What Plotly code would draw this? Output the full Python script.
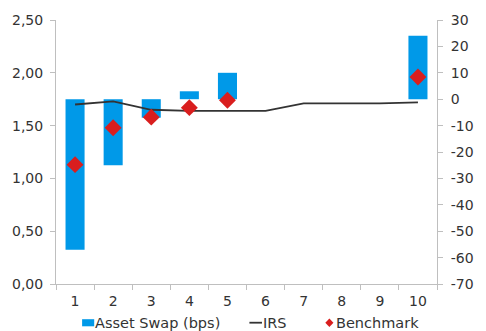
import plotly.graph_objects as go

# Maturity buckets (years)
categories = ["1", "2", "3", "4", "5", "6", "7", "8", "9", "10"]

# Asset swap spread in basis points (right axis)
asset_swap_bps = [-57, -25, -7, 3, 10, None, None, None, None, 24]

# IRS curve, % (left axis)
irs = [1.70, 1.73, 1.65, 1.64, 1.64, 1.64, 1.71, 1.71, 1.71, 1.72]

# Benchmark bond yields, % (left axis)
benchmark = [1.13, 1.48, 1.58, 1.67, 1.74, None, None, None, None, 1.96]

left_ticks = [0, 0.5, 1.0, 1.5, 2.0, 2.5]
right_ticks = list(range(-70, 31, 10))
right_labels = [str(v) for v in right_ticks]  # plain hyphen for negatives

series_names = ["Asset Swap (bps)", "IRS", "Benchmark"]

font_family = "DejaVu Sans, Verdana, sans-serif"
text_color = "#333333"
axis_color = "#BFBFBF"
bar_color = "#0099E8"
line_color = "#333333"
marker_color = "#D91E1E"

W, H = 486, 331
M = dict(l=53, r=39, t=20, b=47)
plot_w = W - M["l"] - M["r"]
plot_h = H - M["t"] - M["b"]


def px_x(px):
    """Pixel column -> paper x fraction of the plot area."""
    return (px - M["l"]) / plot_w


def px_y(py):
    """Pixel row -> paper y fraction of the plot area."""
    return (H - M["b"] - py) / plot_h


fig = go.Figure()

fig.add_trace(go.Bar(
    x=categories, y=asset_swap_bps, base=0, yaxis="y2",
    name=series_names[0], marker=dict(color=bar_color, line=dict(width=0)),
))
fig.add_trace(go.Scatter(
    x=categories, y=irs, yaxis="y", mode="lines", name=series_names[1],
    line=dict(color=line_color, width=1.8),
))
fig.add_trace(go.Scatter(
    x=categories, y=benchmark, yaxis="y", mode="markers", name=series_names[2],
    marker=dict(symbol="diamond", color=marker_color, size=13, line=dict(width=0)),
))

# Compact legend row under the axis
leg_y = 322.7
shapes = [
    dict(type="rect", xref="paper", yref="paper",
         x0=px_x(80), x1=px_x(92.5), y0=px_y(326.3), y1=px_y(319.2),
         fillcolor=bar_color, line=dict(width=0)),
    dict(type="line", xref="paper", yref="paper",
         x0=px_x(253), x1=px_x(266), y0=px_y(leg_y), y1=px_y(leg_y),
         line=dict(color=line_color, width=1.8)),
    dict(type="path", xref="paper", yref="paper",
         path=(f"M {px_x(331.5)},{px_y(leg_y)} L {px_x(335.7)},{px_y(leg_y - 4.3)} "
               f"L {px_x(339.9)},{px_y(leg_y)} L {px_x(335.7)},{px_y(leg_y + 4.3)} Z"),
         fillcolor=marker_color, line=dict(width=0)),
]
annotations = [
    dict(text=name, xref="paper", yref="paper", x=px_x(x0), y=px_y(leg_y),
         xanchor="left", yanchor="middle", showarrow=False, borderpad=0,
         font=dict(size=14.5, color=text_color, family=font_family))
    for name, x0 in zip(series_names, [92.5, 266.5, 341.5])
]

fig.update_layout(
    width=W, height=H,
    margin=M,
    paper_bgcolor="white", plot_bgcolor="white",
    separators=",.",
    bargap=0.5,
    font=dict(family=font_family, size=14, color=text_color),
    showlegend=False,
    shapes=shapes,
    annotations=annotations,
    xaxis=dict(type="category", tickson="boundaries", ticks="outside", ticklen=5,
               tickcolor=axis_color, showline=True, linecolor=axis_color, linewidth=1,
               showgrid=False, zeroline=False, range=[-0.5, 9.5],
               ticklabelstandoff=4),
    yaxis2=dict(side="right", anchor="x", range=[-70, 30], tickvals=right_ticks,
                ticktext=right_labels, ticks="outside", ticklen=5,
                tickcolor=axis_color, showline=True, linecolor=axis_color,
                linewidth=1, showgrid=False, zeroline=False,
                ticklabelstandoff=5),
    yaxis=dict(side="left", overlaying="y2", range=[0, 2.5], tickvals=left_ticks,
               tickformat=".2f", ticks="outside", ticklen=5, tickcolor=axis_color,
               showline=True, linecolor=axis_color, linewidth=1, showgrid=False,
               zeroline=False, ticklabelstandoff=4),
)

fig.write_html("out.html")
